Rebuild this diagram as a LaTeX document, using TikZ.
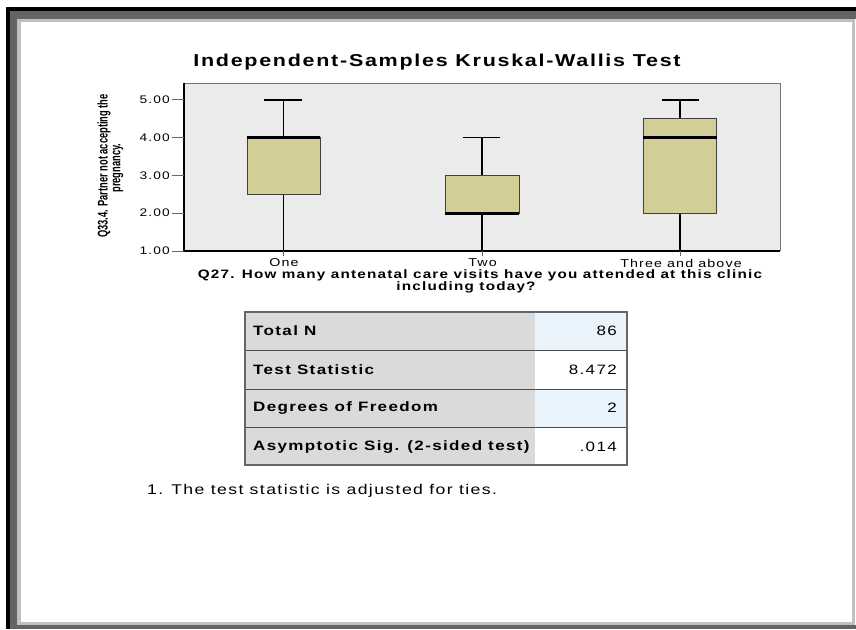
\documentclass[tikz,border=0pt]{standalone}
\usepackage{fontspec}
\setmainfont{Liberation Sans}
\newfontfamily\spssfont[FakeStretch=1.25, LetterSpace=10]{Liberation Sans}
\usetikzlibrary{calc}

\begin{document}
\begin{tikzpicture}[
    x=1pt, y=-1pt,
    text=black,
    titletext/.style={font=\spssfont\bfseries\fontsize{17.2}{19}\selectfont, inner sep=0pt},
    axistitle/.style={font=\spssfont\bfseries\fontsize{12.2}{13}\selectfont, inner sep=0pt},
    ticklabel/.style={font=\spssfont\fontsize{11}{11}\selectfont, inner sep=0pt},
    catlabel/.style={font=\spssfont\fontsize{11.4}{12}\selectfont, inner sep=0pt},
    ytitle/.style={font=\bfseries\fontsize{14}{15}\selectfont, rotate=90, inner sep=0pt},
    cell/.style={font=\spssfont\bfseries\fontsize{13.6}{14}\selectfont, inner sep=0pt, anchor=west},
    cellvalue/.style={font=\spssfont\fontsize{13.6}{14}\selectfont, inner sep=0pt, anchor=east},
    whisker/.style={line width=1.6pt, black},
    boxfill/.style={fill=boxtan, draw=black!75, line width=1pt},
    medianline/.style={line width=2.6pt, black},
    tickline/.style={draw=black!60, line width=0.8pt}
]

% Define custom colors to match the screenshot
\definecolor{framegray}{HTML}{646464}
\definecolor{framelight}{HTML}{C0C0C0}
\definecolor{plotbg}{HTML}{EBEBEB}
\definecolor{boxtan}{HTML}{D3CE97}
\definecolor{cellgray}{HTML}{DADADA}
\definecolor{cellblue}{HTML}{EAF4FD}

% ==================== WINDOW FRAME ====================
\fill[white] (0,0) rectangle (856,629);
\fill[black] (6,7) rectangle (856,11);
\fill[black] (6,7) rectangle (10,629);
\fill[framegray] (10,11) rectangle (856,19);
\fill[framegray] (10,11) rectangle (17,629);
\fill[framegray] (10,625) rectangle (856,629);
\fill[framelight] (17,19) rectangle (855,625);
\fill[white] (21,22) rectangle (852,622);

% ==================== TITLE ====================
\node[titletext] (title) at (437,62) {Independent-Samples Kruskal-Wallis Test};

% ==================== PLOT AREA ====================
\fill[plotbg] (184,83) rectangle (780,251);
\draw[black!55, line width=0.8pt] (184,83) -- (780,83) -- (780,251);
\draw[black, line width=1.4pt] (184,82.5) -- (184,251) -- (780,251);

% Y axis
\begin{scope}[yshift=-288.8pt, y=37.8pt]
    % Ticks and labels
    \draw[tickline] (172,5) -- (184,5);
    \draw[tickline] (172,4) -- (184,4);
    \draw[tickline] (172,3) -- (184,3);
    \draw[tickline] (172,2) -- (184,2);
    \draw[tickline] (172,1) -- (184,1);
    \node[ticklabel, anchor=east] (t5) at (170,5) {5.00};
    \node[ticklabel, anchor=east] (t4) at (170,4) {4.00};
    \node[ticklabel, anchor=east] (t3) at (170,3) {3.00};
    \node[ticklabel, anchor=east] (t2) at (170,2) {2.00};
    \node[ticklabel, anchor=east] (t1) at (170,1) {1.00};

    % Box One
    \draw[whisker] (283.5,1) -- (283.5,5);
    \draw[whisker] (264,5) -- (302,5);
    \draw[boxfill] (247,2.5) rectangle (320,4);
    \draw[medianline] (247,4) -- (320,4);

    % Box Two
    \draw[whisker] (482,1) -- (482,4);
    \draw[whisker] (463,4) -- (500,4);
    \draw[boxfill] (445,2) rectangle (519,3);
    \draw[medianline] (445,2) -- (519,2);

    % Box Three and above
    \draw[whisker] (680,1) -- (680,5);
    \draw[whisker] (662,5) -- (699,5);
    \draw[boxfill] (643,2) rectangle (716.5,4.5);
    \draw[medianline] (643,4) -- (716.5,4);
\end{scope}

% Category ticks
\draw[tickline] (283.5,251) -- (283.5,256);
\draw[tickline] (482,251) -- (482,256);
\draw[tickline] (680,251) -- (680,256);

% Labels
\node[catlabel] (one) at (284,263) {One};
\node[catlabel] (two) at (482.5,263) {Two};
\node[catlabel] (three) at (681,263) {Three and above};
\node[axistitle] (xtitle1) at (480,275.5) {Q27. How many antenatal care visits have you attended at this clinic};
\node[axistitle] (xtitle2) at (466,287.5) {including today?};
\node[ytitle] (ytitle1) at (104,166) {\scalebox{0.665}[1]{Q33.4. Partner not accepting the}};
\node[ytitle] (ytitle2) at (118,168) {\scalebox{0.665}[1]{pregnancy.}};

% ==================== RESULT TABLE ====================
\fill[cellgray] (245,312) rectangle (535,465);
\fill[cellblue] (535,312) rectangle (627,350);
\fill[white] (535,350) rectangle (627,389);
\fill[cellblue] (535,389) rectangle (627,427);
\fill[white] (535,427) rectangle (627,465);
\draw[black!70, line width=0.9pt] (245,350) -- (627,350);
\draw[black!70, line width=0.9pt] (245,389) -- (627,389);
\draw[black!70, line width=0.9pt] (245,427) -- (627,427);
\draw[black!60, line width=1.8pt] (245,312) rectangle (627,465);

\node[cell] (totaln) at (253,331) {Total N};
\node[cell] (teststat) at (253,370) {Test Statistic};
\node[cell] (dof) at (253,408) {Degrees of Freedom};
\node[cell] (asym) at (253,447) {Asymptotic Sig. (2-sided test)};
\node[cellvalue] (vtotaln) at (617,331) {86};
\node[cellvalue] (vteststat) at (617,370) {8.472};
\node[cellvalue] (vdof) at (617,408) {2};
\node[cellvalue] (vasym) at (617,447) {.014};

% Footnote
\node[font=\spssfont\fontsize{14.1}{15}\selectfont, inner sep=0pt, anchor=west] (note) at (147,491) {1.\hspace{8pt}The test statistic is adjusted for ties.};

\end{tikzpicture}
\end{document}
